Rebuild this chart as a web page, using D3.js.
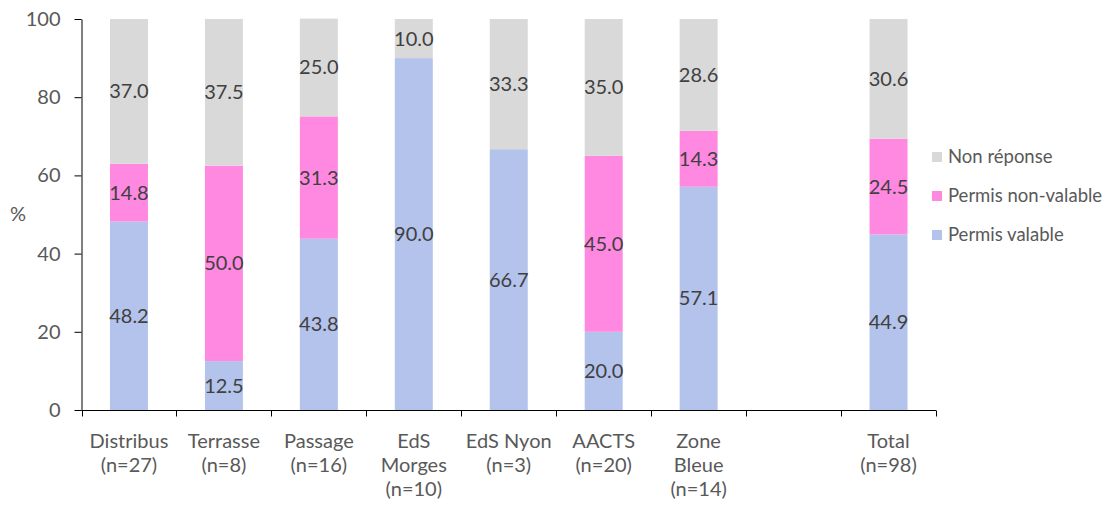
<!DOCTYPE html>
<html><head><meta charset="utf-8">
<script src="https://cdn.jsdelivr.net/npm/d3@7"></script>
<style>body{margin:0;background:#fff}svg{display:block}</style>
</head><body><svg id="c" width="1111" height="510"></svg>
<script>
const categories = ["Distribus\n(n=27)", "Terrasse\n(n=8)", "Passage\n(n=16)", "EdS\nMorges\n(n=10)", "EdS Nyon\n(n=3)", "AACTS\n(n=20)", "Zone\nBleue\n(n=14)", "", "Total\n(n=98)"];
const permisValable = [48.2, 12.5, 43.8, 90.0, 66.7, 20.0, 57.1, null, 44.9];
const permisNonValable = [14.8, 50.0, 31.3, 0, 0, 45.0, 14.3, null, 24.5];
const nonReponse = [37.0, 37.5, 25.0, 10.0, 33.3, 35.0, 28.6, null, 30.6];
const seriesNames = ["Permis valable", "Permis non-valable", "Non réponse"];
const yTicks = [0, 20, 40, 60, 80, 100];
const colors = ["#B4C3EB", "#FF88E0", "#D9D9D9"];

const svg = d3.select("#c");
const font = "Lato, 'Open Sans', sans-serif";
const x = d3.scaleBand().domain(d3.range(categories.length)).range([81.5, 936]).paddingInner(0.6).paddingOuter(0.3);
const y = d3.scaleLinear().domain([0, 100]).range([410, 19]);
const seriesData = [permisValable, permisNonValable, nonReponse];

const rows = categories.map((c, i) => ({i, a: permisValable[i], b: permisNonValable[i], c: nonReponse[i]}));
const stack = d3.stack().keys(["a", "b", "c"]).value((d, k) => d[k] || 0)(rows);

stack.forEach((layer, si) => {
  const g = svg.append("g");
  layer.forEach((d, i) => {
    const v = seriesData[si][i];
    if (v == null || v === 0) return;
    g.append("rect").attr("x", x(i)).attr("width", x.bandwidth())
      .attr("y", y(d[1])).attr("height", y(d[0]) - y(d[1])).attr("fill", colors[si]);
  });
});
stack.forEach((layer, si) => {
  layer.forEach((d, i) => {
    const v = seriesData[si][i];
    if (v == null || v === 0) return;
    svg.append("text").attr("x", x(i) + x.bandwidth() / 2).attr("y", y((d[0] + d[1]) / 2))
      .attr("dy", "0.35em").attr("text-anchor", "middle").attr("font-family", font)
      .attr("font-size", 20).attr("fill", "#404040").text(v.toFixed(1));
  });
});

// y axis
const yAxis = svg.append("g").attr("transform", "translate(81.5,0)")
  .call(d3.axisLeft(y).tickValues(yTicks).tickSize(7).tickSizeOuter(0));
yAxis.select(".domain").attr("stroke", "#000");
yAxis.selectAll(".tick line").attr("stroke", "#000");
yAxis.selectAll("text").attr("font-family", font).attr("font-size", 20).attr("fill", "#595959").attr("x", -21);

// x axis
const xEdge = d3.scaleLinear().domain([0, categories.length]).range([81.5, 936]);
const xg = svg.append("g").attr("transform", "translate(0,410.5)");
xg.append("line").attr("x1", 81.5).attr("x2", 936).attr("stroke", "#000");
d3.range(categories.length + 1).forEach(k => {
  xg.append("line").attr("x1", Math.round(xEdge(k)) + 0.5).attr("x2", Math.round(xEdge(k)) + 0.5)
    .attr("y1", 0).attr("y2", 6).attr("stroke", "#000");
});
categories.forEach((c, i) => {
  const t = svg.append("text").attr("text-anchor", "middle").attr("font-family", font)
    .attr("font-size", 20).attr("fill", "#595959");
  c.split("\n").forEach((ln, j) => {
    t.append("tspan").attr("x", x(i) + x.bandwidth() / 2).attr("y", 448 + j * 24).text(ln);
  });
});

svg.append("text").attr("x", 18).attr("y", 221).attr("text-anchor", "middle")
  .attr("font-family", font).attr("font-size", 20).attr("fill", "#595959").text("%");

// legend
const legendOrder = [2, 1, 0];
legendOrder.forEach((si, r) => {
  const ly = 157 + r * 39;
  svg.append("rect").attr("x", 932).attr("y", ly - 5).attr("width", 10).attr("height", 10).attr("fill", colors[si]);
  svg.append("text").attr("x", 948).attr("y", ly).attr("dy", "0.35em").attr("font-family", font)
    .attr("font-size", 18.5).attr("fill", "#595959").text(seriesNames[si]);
});
</script></body></html>
